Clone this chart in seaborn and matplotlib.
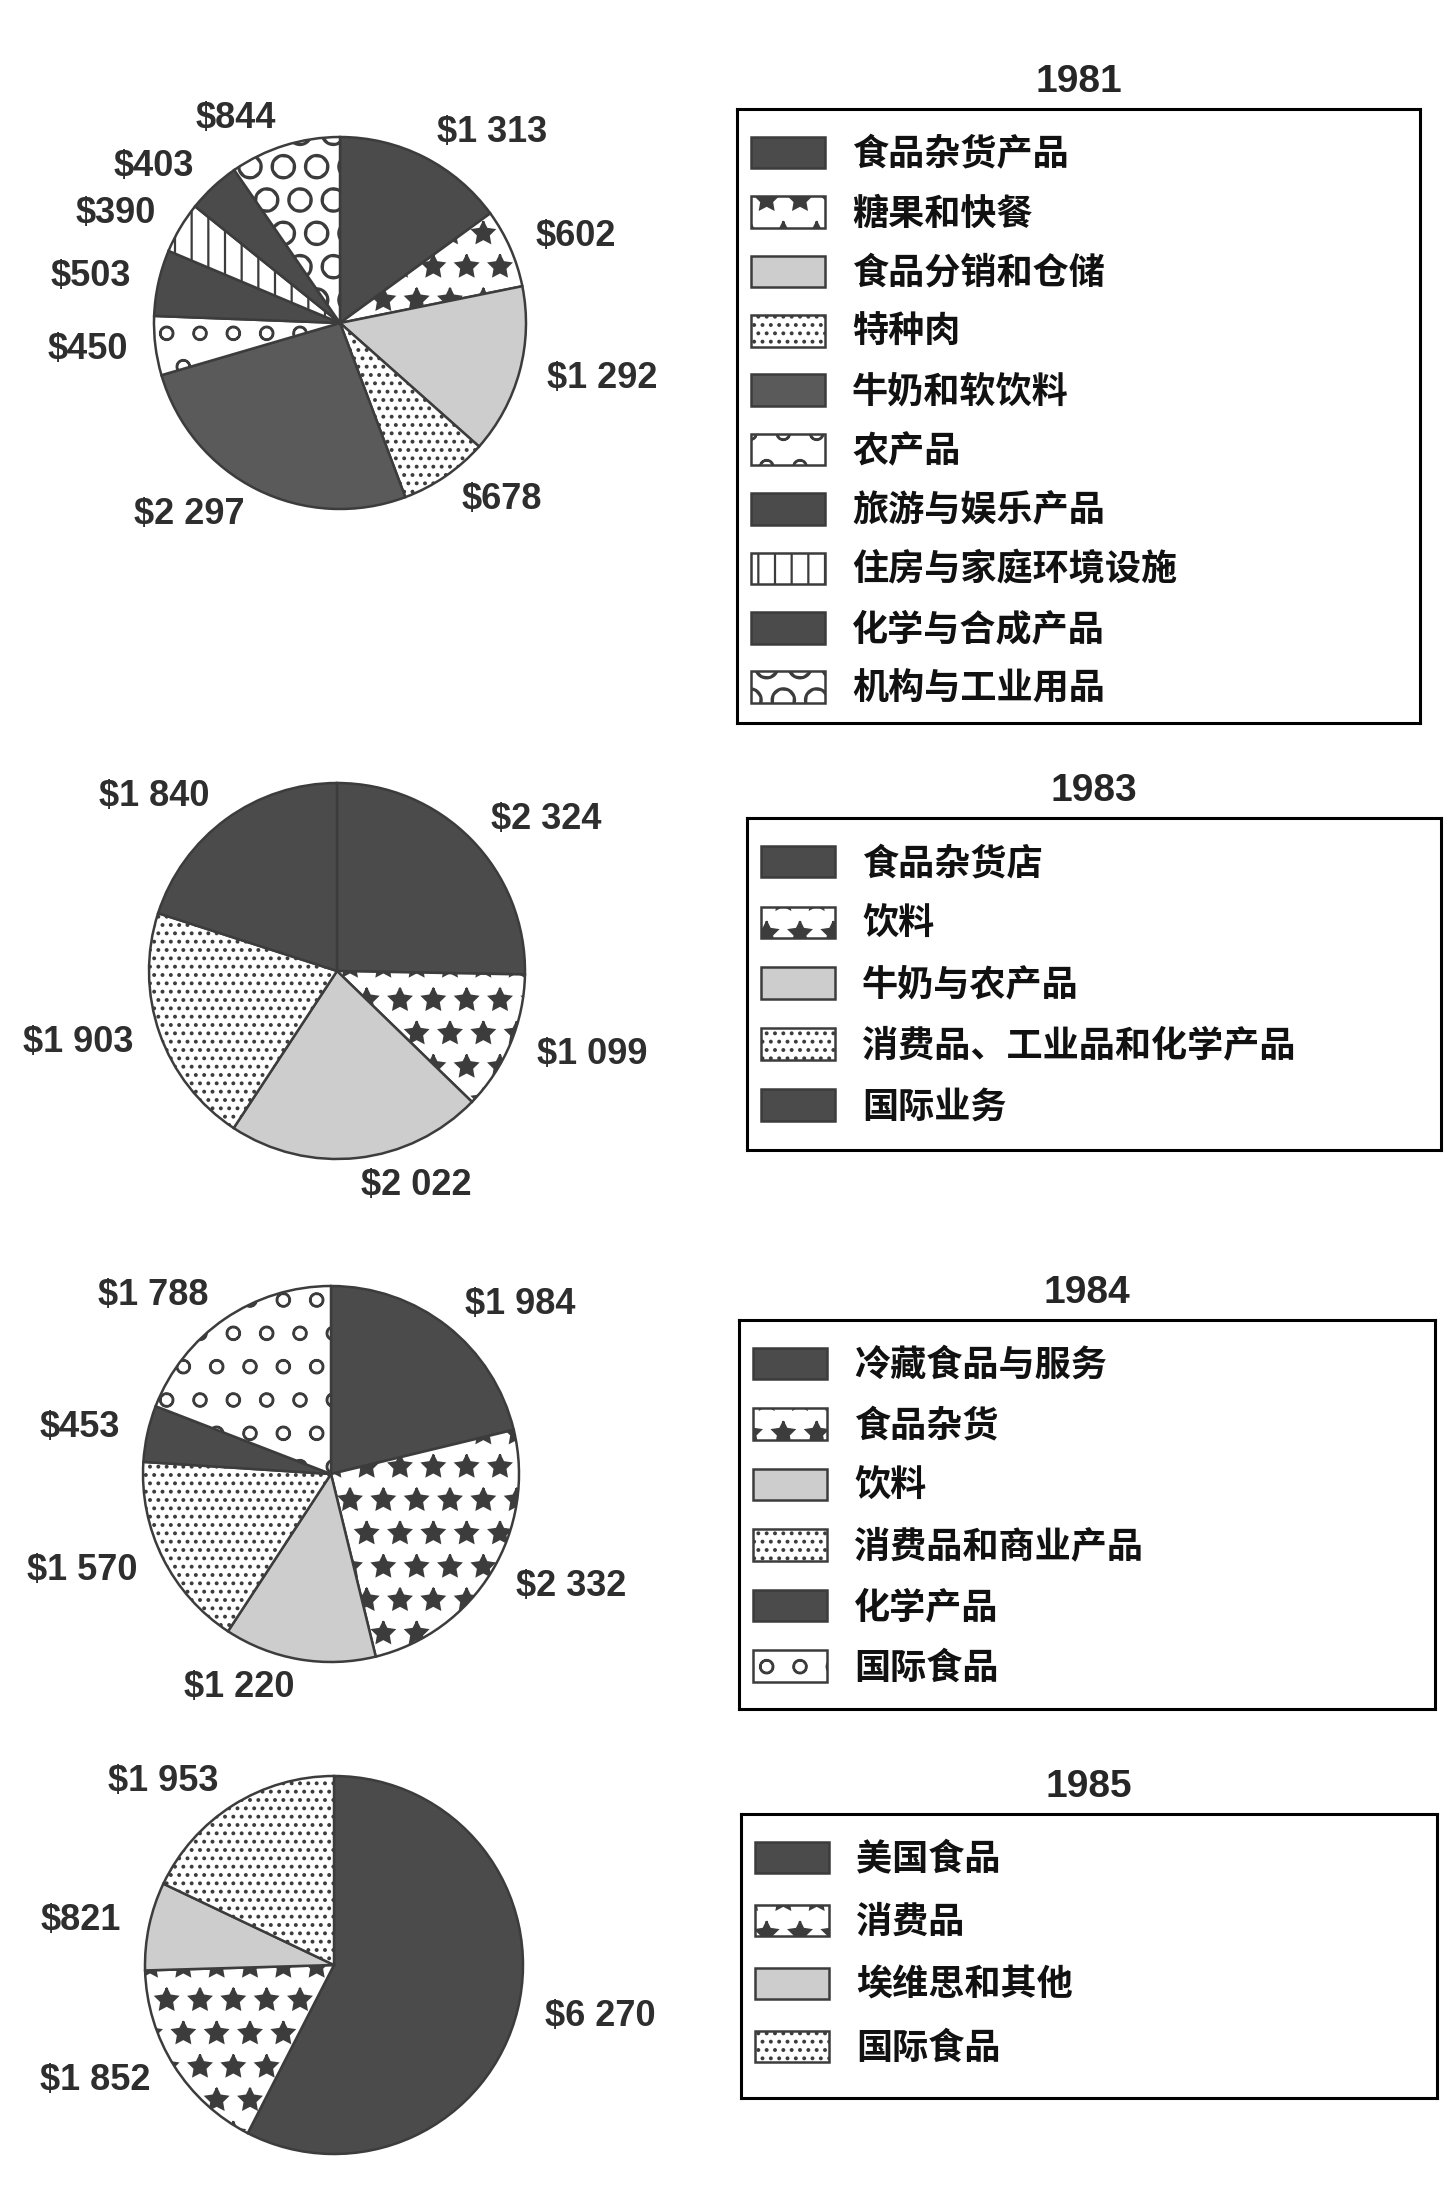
import matplotlib
matplotlib.use("Agg")
import matplotlib.pyplot as plt
import seaborn as sns

sns.set_theme(style="white")
plt.rcParams['font.family'] = ['Noto Sans CJK SC', 'DejaVu Sans']
plt.rcParams['hatch.linewidth'] = 0.8

# narrow-ish face for the dollar labels and the year titles
NUM_FONT = ['Liberation Sans', 'DejaVu Sans']

# --- data (millions of dollars) ---
years = ['1981', '1983', '1984', '1985']

cats_1981 = ['食品杂货产品', '糖果和快餐', '食品分销和仓储', '特种肉', '牛奶和软饮料',
             '农产品', '旅游与娱乐产品', '住房与家庭环境设施', '化学与合成产品', '机构与工业用品']
vals_1981 = [1313, 602, 1292, 678, 2297, 450, 503, 390, 403, 844]

cats_1983 = ['食品杂货店', '饮料', '牛奶与农产品', '消费品、工业品和化学产品', '国际业务']
vals_1983 = [2324, 1099, 2022, 1903, 1840]

cats_1984 = ['冷藏食品与服务', '食品杂货', '饮料', '消费品和商业产品', '化学产品', '国际食品']
vals_1984 = [1984, 2332, 1220, 1570, 453, 1788]

cats_1985 = ['美国食品', '消费品', '埃维思和其他', '国际食品']
vals_1985 = [6270, 1852, 821, 1953]

# fill style per slice: (facecolor, hatch)
DARK = '#4b4b4b'
MID = '#5a5a5a'
LIGHT = '#cdcdcd'
STARS = ('white', '*')
DOTS = ('white', '....')
SWIRL = ('white', 'o')
styles = {
    '1981': [(DARK, None), STARS, (LIGHT, None), DOTS, (MID, None), SWIRL,
             (DARK, None), ('white', '||'), (DARK, None), ('white', 'O')],
    '1983': [(DARK, None), STARS, (LIGHT, None), DOTS, (DARK, None)],
    '1984': [(DARK, None), STARS, (LIGHT, None), DOTS, (DARK, None), SWIRL],
    '1985': [(DARK, None), STARS, (LIGHT, None), DOTS],
}
data = {'1981': (cats_1981, vals_1981), '1983': (cats_1983, vals_1983),
        '1984': (cats_1984, vals_1984), '1985': (cats_1985, vals_1985)}

# --- layout in pixels (figure is 1452 x 2193) ---
W, H = 1452, 2193
DPI = 200   # high dpi keeps the hatch textures as coarse as in the print
pie_geom = {'1981': (340, 323, 186), '1983': (337, 971, 188),
            '1984': (331, 1474, 188), '1985': (334, 1965, 189)}
legend_box = {'1981': (737, 109, 1420, 723), '1983': (747, 818, 1441, 1150),
              '1984': (739, 1320, 1435, 1709), '1985': (741, 1814, 1437, 2098)}
row_gap = {'1981': 0.62, '1983': 0.66, '1984': 0.65, '1985': 0.72}
LIM = 1.6


def money(v):
    return f'${v // 1000} {v % 1000:03d}' if v >= 1000 else f'${v}'


fig = plt.figure(figsize=(W / DPI, H / DPI), dpi=DPI)

for yr in years:
    cats, vals = data[yr]
    cx, cy, r = pie_geom[yr]
    side = 2 * LIM * r
    ax = fig.add_axes([(cx - side / 2) / W, 1 - (cy + side / 2) / H, side / W, side / H])
    wedges, texts = ax.pie(vals, labels=[money(v) for v in vals], startangle=90,
                           counterclock=False, labeldistance=1.15,
                           wedgeprops=dict(edgecolor='#3c3c3c', linewidth=0.9),
                           textprops=dict(fontsize=13, fontweight='bold',
                                          family=NUM_FONT, color='#2e2e2e'))
    for w, (fc, hatch) in zip(wedges, styles[yr]):
        w.set_facecolor(fc)
        if hatch:
            w.set_hatch(hatch)
    ax.set_xlim(-LIM, LIM)
    ax.set_ylim(-LIM, LIM)

    # legend box with year title
    x0, y0, x1, y1 = legend_box[yr]
    bw, bh = x1 - x0, y1 - y0
    lax = fig.add_axes([x0 / W, 1 - y1 / H, bw / W, bh / H])
    lax.set_xticks([])
    lax.set_yticks([])
    for sp in lax.spines.values():
        sp.set_visible(True)
        sp.set_color('black')
        sp.set_linewidth(1.1)
    lax.set_title(yr, fontsize=14, fontweight='heavy', family=NUM_FONT, pad=6)
    leg = lax.legend(wedges, cats, loc='upper left',
                     bbox_to_anchor=(14 / bw, 1 - 27 / bh), borderaxespad=0,
                     borderpad=0, frameon=False, fontsize=13,
                     handlelength=2.05, handleheight=0.97, handletextpad=0.75,
                     labelspacing=row_gap[yr])
    for t in leg.get_texts():
        t.set_fontweight('bold')
        t.set_color('#111111')

fig.savefig('out.png', dpi=DPI, facecolor='white')
